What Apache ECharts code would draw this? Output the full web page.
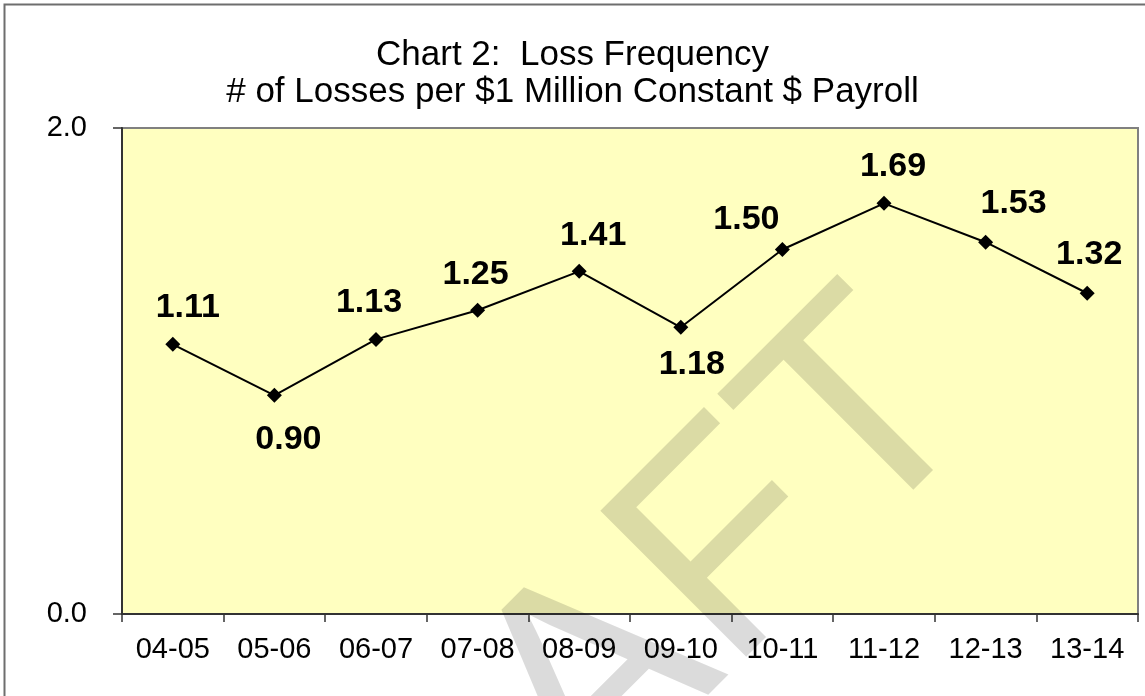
<!DOCTYPE html>
<html>
<head>
<meta charset="utf-8">
<title>Loss Frequency</title>
<script src="https://cdn.jsdelivr.net/npm/echarts@6/dist/echarts.min.js"></script>
<style>
    html, body { margin: 0; padding: 0; background: #fff; }
    #main { width: 1145px; height: 696px; }
</style>
</head>
<body>
<div id="main"></div>
<script>
// fiscal years on the x axis
var years = ['04-05','05-06','06-07','07-08','08-09','09-10','10-11','11-12','12-13','13-14'];
// losses per $1 million constant $ payroll
var frequency = [1.11, 0.90, 1.13, 1.25, 1.41, 1.18, 1.50, 1.69, 1.53, 1.32];
// y axis ticks
var yTicks = [0, 2];

// where each value label sits relative to its point (pixels)
var labelShift = [[15,-37],[14,44],[-7,-37],[-2,-36],[14,-36],[11,37],[-36,-30],[9,-37],[28,-39],[2,-39]];

var FONT = "'Liberation Sans', Arial, sans-serif";

var points = [];
for (var i = 0; i < frequency.length; i++) {
    points.push({
        value: frequency[i],
        label: { offset: labelShift[i] }
    });
}

var myChart = echarts.init(document.getElementById('main'));
var option = {
    backgroundColor: '#fff',
    animation: false,
    title: {
        text: 'Chart 2:  Loss Frequency\n# of Losses per $1 Million Constant $ Payroll',
        left: 'center',
        top: 32,
        textStyle: {
            fontFamily: FONT,
            fontSize: 35,
            fontWeight: 'normal',
            color: '#000',
            lineHeight: 37
        }
    },
    graphic: [
        {
            type: 'rect',
            z: 0,
            silent: true,
            shape: { x: 4.5, y: 4.5, width: 1400, height: 1000 },
            style: { fill: 'none', stroke: '#6e6e6e', lineWidth: 2 }
        },
        {
            type: 'text',
            z: 1,
            silent: true,
            x: 576,
            y: 710,
            rotation: Math.PI / 4,
            style: {
                text: 'DRAFT',
                x: 0,
                y: 0,
                textAlign: 'center',
                textVerticalAlign: 'middle',
                font: '300px ' + FONT,
                fill: 'rgba(0,0,0,0.14)'
            }
        }
    ],
    grid: {
        show: true,
        left: 122,
        top: 128,
        right: 7,
        bottom: 82,
        backgroundColor: '#FFFFC0',
        borderColor: '#808080',
        borderWidth: 2
    },
    xAxis: {
        type: 'category',
        data: years,
        boundaryGap: true,
        axisLine: { lineStyle: { color: '#333', width: 2 } },
        axisTick: { show: true, length: 8, lineStyle: { color: '#333', width: 1.5 } },
        axisLabel: {
            color: '#000',
            fontFamily: FONT,
            fontSize: 29,
            margin: 21
        },
        splitLine: { show: false }
    },
    yAxis: {
        type: 'value',
        min: yTicks[0],
        max: yTicks[yTicks.length - 1],
        interval: yTicks[1] - yTicks[0],
        axisLine: { show: true, lineStyle: { color: '#333', width: 2 } },
        axisTick: { show: true, length: 9, lineStyle: { color: '#333', width: 1.5 } },
        axisLabel: {
            color: '#000',
            fontFamily: FONT,
            fontSize: 29,
            margin: 35,
            formatter: function (v) { return v.toFixed(1); }
        },
        splitLine: { show: false }
    },
    series: [
        {
            name: 'Loss Frequency',
            type: 'line',
            data: points,
            symbol: 'diamond',
            symbolSize: 15,
            itemStyle: { color: '#000' },
            lineStyle: { color: '#000', width: 2 },
            label: {
                show: true,
                position: 'inside',
                color: '#000',
                fontFamily: FONT,
                fontSize: 34,
                fontWeight: 'bold',
                formatter: function (p) { return p.value.toFixed(2); }
            }
        }
    ]
};
myChart.setOption(option);
</script>
</body>
</html>
